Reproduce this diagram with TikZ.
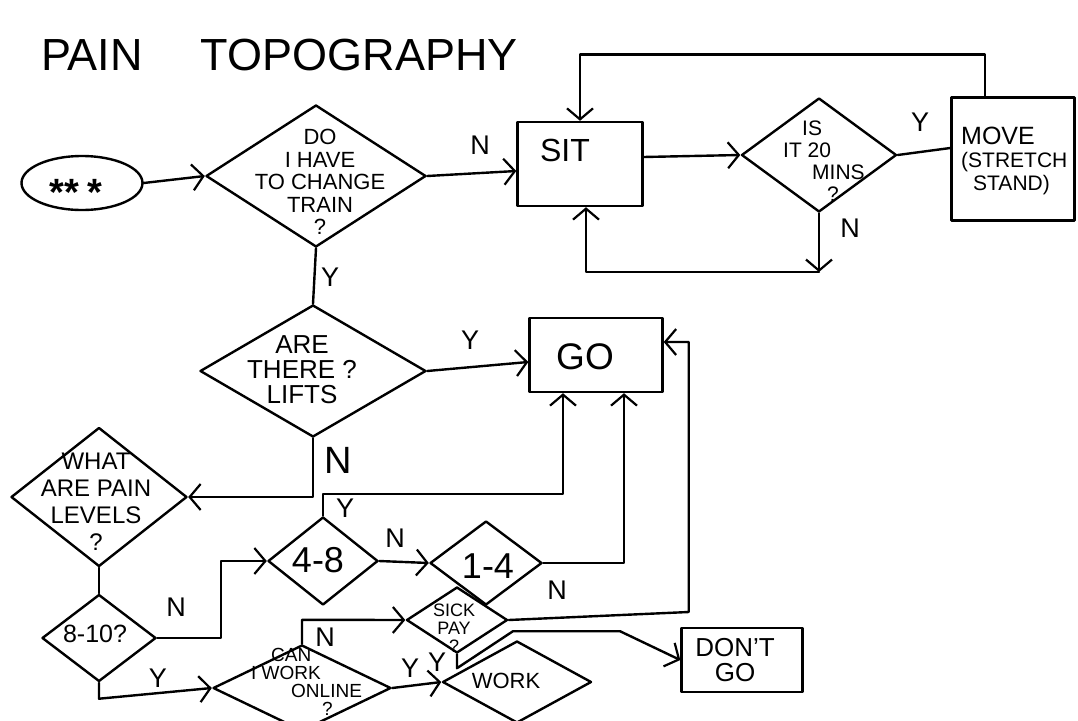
\documentclass[tikz,border=0pt]{standalone}
\usepackage{fontspec}
\setmainfont{Liberation Sans}
\usetikzlibrary{arrows.meta,shapes.geometric,calc}
\begin{document}
\begin{tikzpicture}[x=1pt,y=-1pt, line width=2.4pt, line join=round, line cap=round,
  >={Straight Barb[length=11pt,width=26pt,line width=2.2pt]},
  dia/.style={draw, diamond, inner sep=0pt},
  box/.style={draw, rectangle, inner sep=0pt},
  lbl/.style={inner sep=0pt, font=\fontsize{27pt}{27pt}\selectfont},
  biglbl/.style={inner sep=0pt, font=\fontsize{38pt}{38pt}\selectfont},
  txt/.style={inner sep=0pt, align=center},
]
\useasboundingbox (0,0) rectangle (1078,720);
\clip (0,0) rectangle (1078,720);
\fill[white] (0,0) rectangle (1078,720);

% title
\node[inner sep=0pt, anchor=base west, font=\fontsize{45pt}{45pt}\selectfont] (title) at (40,70) {PAIN\hspace{58pt}TOPOGRAPHY};

% start
\node[draw, ellipse, minimum width=121pt, minimum height=54pt, inner sep=0pt] (start) at (82,183) {};
\node[inner sep=0pt, font=\fontsize{38pt}{38pt}\selectfont\bfseries] (startT) at (76,192) {**\hspace{8pt}*};

% decisions
\node[dia, minimum width=220pt, minimum height=142pt] (change) at (316,176) {};
\node[txt, font=\fontsize{22pt}{22.5pt}\selectfont] (changeT) at (320,182) {DO\\I HAVE\\TO CHANGE\\TRAIN\\?};

\node[dia, minimum width=226pt, minimum height=132pt] (lifts) at (313,371) {};
\node[txt, font=\fontsize{26pt}{25pt}\selectfont] (liftsT) at (302,370) {ARE\\THERE ?\\LIFTS};

\node[dia, minimum width=176pt, minimum height=139pt] (pain) at (99,497) {};
\node[txt, font=\fontsize{24pt}{27pt}\selectfont] (painT) at (96,502) {WHAT\\ARE PAIN\\LEVELS\\?};

\node[dia, minimum width=114pt, minimum height=87pt] (ten) at (99,638) {};
\node[txt, font=\fontsize{25pt}{25pt}\selectfont] (tenT) at (95,634) {8-10?};

\node[dia, minimum width=110pt, minimum height=88pt] (four) at (323,561) {};
\node[txt, font=\fontsize{36pt}{36pt}\selectfont] (fourT) at (318,560) {4-8};

\node[dia, minimum width=112pt, minimum height=84pt] (one) at (486,563) {};
\node[txt, font=\fontsize{36pt}{36pt}\selectfont] (oneT) at (488,566) {1-4};

\node[dia, minimum width=101pt, minimum height=66pt] (sick) at (457,620) {};
\node[txt, font=\fontsize{18pt}{18pt}\selectfont] (sickT) at (454,628) {SICK\\PAY\\?};

\node[dia, minimum width=178pt, minimum height=86pt] (online) at (302,688) {};
\node[inner sep=0pt, align=left, anchor=north west, font=\fontsize{19pt}{18pt}\selectfont] (onlineT) at (250,647) {\hspace*{20pt}CAN\\I WORK\\\hspace*{40pt}ONLINE\\\hspace*{71pt}?};

\node[dia, minimum width=149pt, minimum height=82pt] (workd) at (517,682) {};
\node[txt, font=\fontsize{22pt}{22pt}\selectfont] (workdT) at (506,681) {WORK};

\node[dia, minimum width=155pt, minimum height=114pt] (is20) at (819,155) {};
\node[inner sep=0pt, align=left, anchor=north west, font=\fontsize{21pt}{22pt}\selectfont] (is20T) at (782,120) {\hspace*{19pt}IS\\IT 20\\\hspace*{29pt}MINS\\\hspace*{44pt}?};

% boxes
\node[box, minimum width=125pt, minimum height=84pt] (sit) at (580,164) {};
\node[txt, font=\fontsize{32pt}{32pt}\selectfont] (sitT) at (565,150) {SIT};

\node[box, minimum width=123pt, minimum height=123pt] (move) at (1013,159) {};
\node[inner sep=0pt, align=left, anchor=west, font=\fontsize{21pt}{23pt}\selectfont] (moveT) at (960,161) {{\fontsize{25pt}{25pt}\selectfont MOVE}\\(STRETCH\\\hspace*{12pt}STAND)};

\node[box, minimum width=133pt, minimum height=74pt] (go) at (596,355) {};
\node[txt, font=\fontsize{37pt}{37pt}\selectfont] (goT) at (585,357) {GO};

\node[box, minimum width=121pt, minimum height=64pt] (dont) at (742,660) {};
\node[txt, font=\fontsize{26pt}{25pt}\selectfont] (dontT) at (735,660) {DON'T\\GO};

% connectors
\draw[->] (start.east) -- (change.west);
\draw[->] (change.east) -- ([yshift=-7pt]sit.west);
\node[lbl] (nl1) at (480,145) {N};
\draw[->] ([yshift=7pt]sit.east) -- (is20.west);
\draw (is20.east) -- ([yshift=11pt]move.west);
\node[lbl] (yl1) at (920,122) {Y};
\draw[->] ([xshift=-28pt]move.north) -- ++(0,-42) -| (sit.north);
\coordinate (nturn) at (is20.south |- 0,272);
\draw[->] (is20.south) -- (nturn);
\draw[->] (nturn) -| ([xshift=6pt]sit.south);
\node[lbl] (nl2) at (850,228) {N};

\draw (change.south) -- (lifts.north);
\node[lbl] (yl2) at (330,277) {Y};
\draw[->] (lifts.east) -- ([yshift=-7pt]go.west);
\node[lbl] (yl3) at (470,340) {Y};
\draw[->] (lifts.south) |- (pain.east);
\node[biglbl] (nl3) at (338,460) {N};

\draw (pain.south) -- (ten.north);
\draw[->] (ten.east) -- ++(64,0) |- (four.west);
\node[lbl] (nl4) at (176,607) {N};
\draw[->] (ten.south) -- ++(0,16) -- (online.west);
\node[lbl] (yl4) at (158,678) {Y};

\draw[->] (four.north) -- ++(0,-22) -| ([xshift=-33pt]go.south);
\node[lbl] (yl5) at (345,508) {Y};
\draw[->] (four.east) -- (one.west);
\node[lbl] (nl5) at (395,538) {N};
\draw[->] (one.east) -| ([xshift=28pt]go.south);
\node[lbl] (nl6) at (557,590) {N};

\draw[->] (sick.east) -- ++(180,-8) |- ([yshift=13pt]go.east);
\draw[->] (online.north) -- ++(0,-24) -- (sick.west);
\node[lbl] (nl7) at (325,637) {N};
\draw[->] (online.east) -- (workd.west);
\node[lbl] (yl6) at (410,668) {Y};
\draw[->] (sick.south) -- ++(0,14) -- ++(56,-37) -- ++(107,0) -- (dont.west);
\node[lbl] (yl7) at (437,662) {Y};
\end{tikzpicture}
\end{document}
